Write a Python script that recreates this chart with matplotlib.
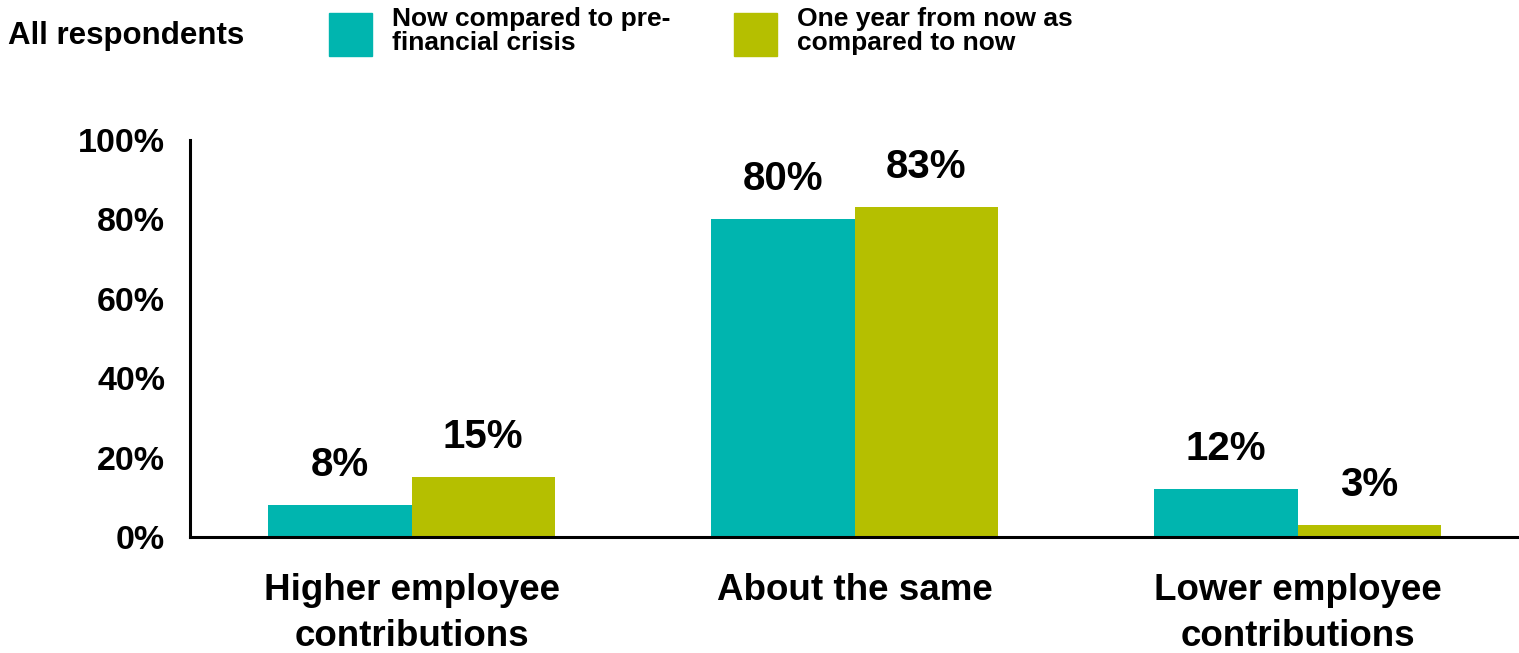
import numpy as np
import matplotlib.pyplot as plt
from matplotlib.patches import Rectangle

plt.rcParams['font.family'] = ['Liberation Sans', 'DejaVu Sans']
plt.rcParams['font.weight'] = 'bold'

categories = ['Higher employee\ncontributions', 'About the same', 'Lower employee\ncontributions']
series_names = ['Now compared to pre-\nfinancial crisis', 'One year from now as\ncompared to now']
now_vs_pre = [8, 80, 12]
next_year = [15, 83, 3]
yticks = [0, 20, 40, 60, 80, 100]

TEAL = '#00B5AF'
OLIVE = '#B5BF00'

fig = plt.figure(figsize=(15.19, 6.53), dpi=100)
ax = fig.add_axes([190 / 1519, 1 - 537 / 653, 1 - 190 / 1519, 397 / 653])

x = np.arange(len(categories))
w = 0.324
b1 = ax.bar(x - w / 2, now_vs_pre, w, color=TEAL)
b2 = ax.bar(x + w / 2, next_year, w, color=OLIVE)

for bars, vals in ((b1, now_vs_pre), (b2, next_year)):
    for bar, v in zip(bars, vals):
        ax.annotate(f'{v}%', (bar.get_x() + bar.get_width() / 2, v),
                    xytext=(0, 21), textcoords='offset points',
                    ha='center', va='baseline', fontsize=29, fontweight='bold')

ax.set_xlim(-0.5, 2.5)
ax.set_ylim(0, 100)
ax.set_yticks(yticks)
ax.set_yticklabels([f'{t}%' for t in yticks], fontsize=24.5, fontweight='bold')
ax.set_xticks(x)
ax.set_xticklabels(categories, fontsize=26.5, fontweight='bold', linespacing=1.42)
ax.tick_params(axis='y', length=0, pad=18)
ax.tick_params(axis='x', length=0, pad=26)
for s in ('top', 'right'):
    ax.spines[s].set_visible(False)
for s in ('left', 'bottom'):
    ax.spines[s].set_linewidth(2.2)

# header row: title and manual legend
fig.text(8 / 1519, 1 - 36 / 653, 'All respondents', fontsize=22.5, fontweight='bold',
         va='center', ha='left')
for px, name, col in ((329, series_names[0], TEAL), (734, series_names[1], OLIVE)):
    fig.add_artist(Rectangle((px / 1519, 1 - 56 / 653), 43 / 1519, 43 / 653,
                             transform=fig.transFigure, color=col))
    fig.text((px + 63) / 1519, 1 - 31 / 653, name, fontsize=19, fontweight='bold',
             va='center', ha='left', linespacing=0.95)

fig.savefig('out.png', dpi=100)
